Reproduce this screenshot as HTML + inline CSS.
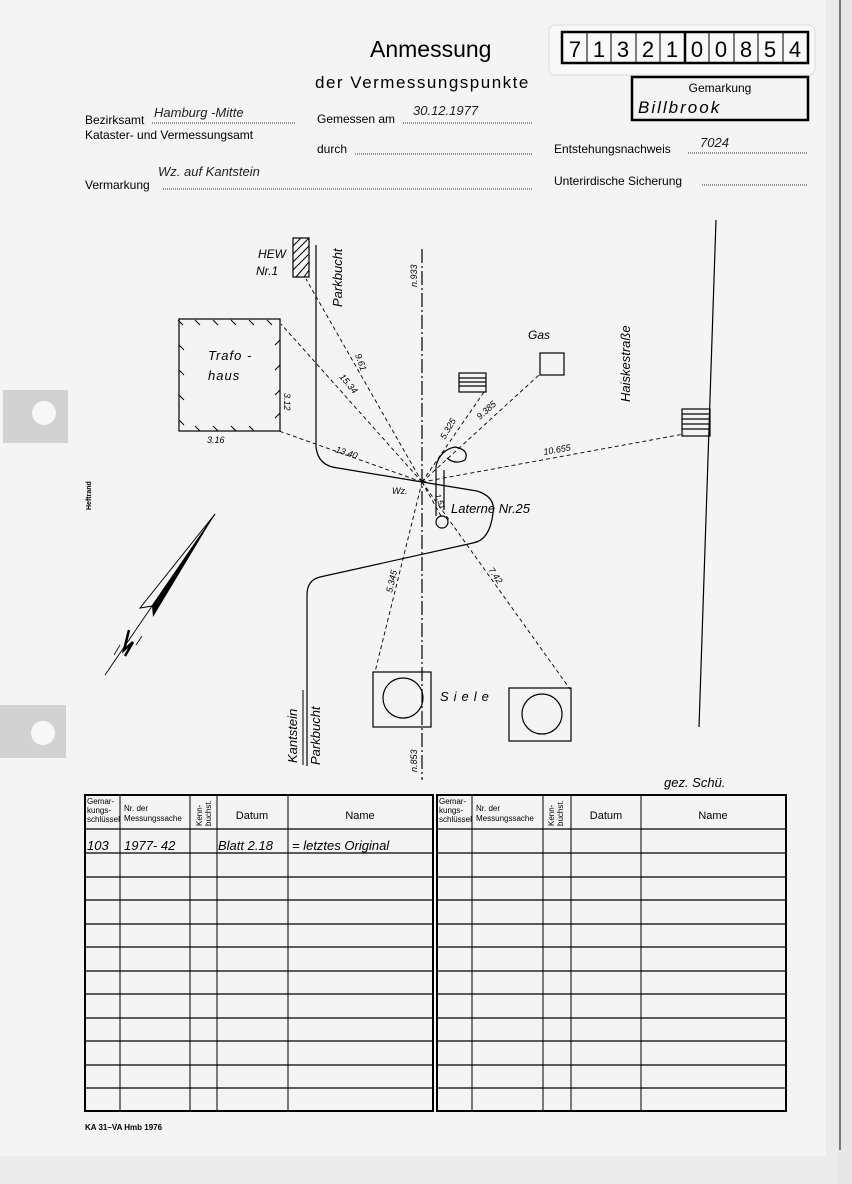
<!DOCTYPE html>
<html><head><meta charset="utf-8"><style>
body{margin:0;width:852px;height:1184px;background:#ebebeb;overflow:hidden;font-family:"Liberation Sans",sans-serif}
svg{position:absolute;left:0;top:0}
</style></head><body>
<svg width="852" height="1184" viewBox="0 0 852 1184" xmlns="http://www.w3.org/2000/svg" font-family="Liberation Sans, sans-serif">
<rect x="0" y="0" width="826" height="1156" fill="#f4f4f4"/>
<rect x="838" y="0" width="14" height="1184" fill="#e6e6e6"/>
<line x1="840" y1="0" x2="840" y2="1150" stroke="#555" stroke-width="1.5"/>
<!-- tabs -->
<rect x="3" y="390" width="65" height="53" fill="#d2d2d2"/>
<circle cx="44" cy="413" r="12" fill="#f7f7f7"/>
<rect x="0" y="705" width="66" height="53" fill="#d2d2d2"/>
<circle cx="43" cy="733" r="12" fill="#f7f7f7"/>
<text x="0" y="0" font-size="7" font-weight="bold" transform="translate(91,510) rotate(-90)">Heftrand</text>

<!-- header -->
<text x="370" y="57" font-size="23">Anmessung</text>
<text x="315" y="88" font-size="17" letter-spacing="1.5">der Vermessungspunkte</text>
<rect x="549" y="25" width="266" height="50" rx="6" fill="#f9f9f9" stroke="#ddd"/>
<rect x="562" y="32" width="246" height="31" fill="none" stroke="#000" stroke-width="2.5"/>
<g stroke="#000" stroke-width="1">
<line x1="587" y1="32" x2="587" y2="63"/><line x1="611" y1="32" x2="611" y2="63"/><line x1="636" y1="32" x2="636" y2="63"/><line x1="660" y1="32" x2="660" y2="63"/>
<line x1="685" y1="32" x2="685" y2="63" stroke-width="2.5"/><line x1="709" y1="32" x2="709" y2="63"/><line x1="734" y1="32" x2="734" y2="63"/><line x1="758" y1="32" x2="758" y2="63"/><line x1="783" y1="32" x2="783" y2="63"/>
</g>
<g font-size="22" text-anchor="middle">
<text x="575" y="57">7</text><text x="599" y="57">1</text><text x="623" y="57">3</text><text x="648" y="57">2</text><text x="672" y="57">1</text><text x="697" y="57">0</text><text x="721" y="57">0</text><text x="746" y="57">8</text><text x="770" y="57">5</text><text x="795" y="57">4</text>
</g>
<rect x="632" y="77" width="176" height="43" fill="none" stroke="#000" stroke-width="2.5"/>
<text x="720" y="92" font-size="12" text-anchor="middle">Gemarkung</text>
<text x="638" y="113" font-size="17" font-style="italic" letter-spacing="2">Billbrook</text>

<g font-size="12">
<text x="85" y="124">Bezirksamt</text>
<text x="85" y="139">Kataster- und Vermessungsamt</text>
<text x="85" y="189">Vermarkung</text>
<text x="317" y="123">Gemessen am</text>
<text x="317" y="153">durch</text>
<text x="554" y="153">Entstehungsnachweis</text>
<text x="554" y="185">Unterirdische Sicherung</text>
</g>
<g font-size="13" font-style="italic" fill="#222">
<text x="154" y="117">Hamburg -Mitte</text>
<text x="413" y="115">30.12.1977</text>
<text x="700" y="147">7024</text>
<text x="158" y="176">Wz. auf Kantstein</text>
</g>
<g stroke="#333" stroke-dasharray="1 1" stroke-width="1">
<line x1="152" y1="123" x2="295" y2="123"/>
<line x1="403" y1="123" x2="533" y2="123"/>
<line x1="355" y1="154" x2="533" y2="154"/>
<line x1="688" y1="153" x2="808" y2="153"/>
<line x1="702" y1="185" x2="808" y2="185"/>
<line x1="163" y1="189" x2="533" y2="189"/>
</g>

<!-- drawing -->
<g stroke="#000" fill="none" stroke-width="1.2">
<line x1="422" y1="249" x2="422" y2="780" stroke-dasharray="14 3 2 3"/>
<line x1="716" y1="220" x2="699" y2="727"/>
<rect x="293" y="238" width="16" height="39"/>
<rect x="179" y="319" width="101" height="112"/>
<path d="M316 245 L316 447 Q318 466 338 468 L422 482 L477 491 Q496 497 493 513 Q490 540 473 543 L320 577 Q307 580 307 595 L307 766"/>
<path d="M436 516 L436 466 Q440 450 455 447 Q470 450 465 460 Q455 465 447 458"/>
<path d="M444 470 L444 510"/>
<circle cx="442" cy="522" r="6"/>
<rect x="459" y="373" width="27" height="19"/>
<line x1="459" y1="378" x2="486" y2="378"/><line x1="459" y1="382" x2="486" y2="382"/><line x1="459" y1="386" x2="486" y2="386"/>
<rect x="540" y="353" width="24" height="22"/>
<rect x="682" y="409" width="28" height="27"/>
<line x1="682" y1="414" x2="710" y2="414"/><line x1="682" y1="419" x2="710" y2="419"/><line x1="682" y1="424" x2="710" y2="424"/><line x1="682" y1="429" x2="710" y2="429"/>
<rect x="373" y="672" width="58" height="55"/>
<circle cx="403" cy="698" r="20"/>
<rect x="509" y="688" width="62" height="53"/>
<circle cx="542" cy="714" r="20"/>
</g>
<g stroke="#000" stroke-width="1">
<line x1="293" y1="246" x2="301" y2="238"/><line x1="293" y1="254" x2="309" y2="238"/><line x1="293" y1="262" x2="309" y2="246"/><line x1="293" y1="270" x2="309" y2="254"/><line x1="296" y1="277" x2="309" y2="262"/><line x1="304" y1="277" x2="309" y2="270"/>
</g>
<g stroke="#000" stroke-width="1" fill="none">
<path d="M183 325 l-5 -5 M200 325 l-5 -5 M218 325 l-5 -5 M236 325 l-5 -5 M254 325 l-5 -5 M272 325 l-5 -5 M184 350 l-5 -5 M184 375 l-5 -5 M184 400 l-5 -5 M184 425 l-5 -5 M200 431 l-5 -5 M218 431 l-5 -5 M236 431 l-5 -5 M254 431 l-5 -5 M275 345 l5 -5 M275 370 l5 -5 M275 395 l5 -5 M275 418 l5 -5"/>
</g>
<g stroke="#000" stroke-width="0.9" stroke-dasharray="4 3" fill="none">
<line x1="422" y1="482" x2="306" y2="279"/>
<line x1="422" y1="482" x2="281" y2="324"/>
<line x1="422" y1="482" x2="279" y2="431"/>
<line x1="422" y1="482" x2="484" y2="392"/>
<line x1="422" y1="482" x2="539" y2="375"/>
<line x1="422" y1="482" x2="684" y2="434"/>
<line x1="422" y1="482" x2="375" y2="672"/>
<line x1="422" y1="482" x2="570" y2="689"/>
<line x1="422" y1="482" x2="441" y2="516"/>
</g>
<g font-size="11" font-style="italic">
<text x="258" y="258" font-size="12">HEW</text>
<text x="256" y="275" font-size="12">Nr.1</text>
<text x="208" y="360" font-size="13" letter-spacing="1">Trafo -</text>
<text x="208" y="380" font-size="13" letter-spacing="1">haus</text>
<text x="207" y="443" font-size="9">3.16</text>
<text x="0" y="0" font-size="9" transform="translate(284,393) rotate(90)">3.12</text>
<text x="0" y="0" font-size="13" transform="translate(342,307) rotate(-90)">Parkbucht</text>
<text x="0" y="0" font-size="9" transform="translate(417,287) rotate(-90)">n.933</text>
<text x="0" y="0" font-size="9" transform="translate(417,772) rotate(-90)">n.853</text>
<text x="528" y="339" font-size="12">Gas</text>
<text x="0" y="0" font-size="13" transform="translate(630,402) rotate(-90)">Haiskestraße</text>
<text x="0" y="0" font-size="9" transform="translate(355,355) rotate(70)">9.61</text>
<text x="0" y="0" font-size="9" transform="translate(339,377) rotate(50)">15.34</text>
<text x="0" y="0" font-size="9" transform="translate(335,452) rotate(18)">13.40</text>
<text x="0" y="0" font-size="9" transform="translate(445,440) rotate(-60)">5.325</text>
<text x="0" y="0" font-size="9" transform="translate(480,420) rotate(-42)">9.385</text>
<text x="0" y="0" font-size="9" transform="translate(544,455) rotate(-10)">10.655</text>
<text x="0" y="0" font-size="9" transform="translate(392,593) rotate(-77)">5.345</text>
<text x="0" y="0" font-size="9" transform="translate(488,570) rotate(55)">7.42</text>
<text x="0" y="0" font-size="8" transform="translate(435,495) rotate(70)">1.51</text>
<text x="392" y="494" font-size="9">Wz.</text>
<text x="451" y="513" font-size="13">Laterne Nr.25</text>
<text x="440" y="701" font-size="13" letter-spacing="5">Siele</text>
<text x="0" y="0" font-size="13" transform="translate(297,763) rotate(-90)">Kantstein</text>
<text x="0" y="0" font-size="13" transform="translate(320,765) rotate(-90)">Parkbucht</text>
<text x="664" y="787" font-size="13">gez. Schü.</text>
</g>
<line x1="303" y1="690" x2="303" y2="765" stroke="#000" stroke-width="1"/>
<!-- north arrow -->
<line x1="215" y1="514" x2="105" y2="675" stroke="#000" stroke-width="0.9"/>
<path d="M215 514 L140 608 L152 606 Z" fill="none" stroke="#000"/>
<path d="M215 514 L152 606 L153 617 Z" fill="#000"/>
<path d="M129 630 L124 650 L133 642 L125 656" stroke="#000" stroke-width="2.5" fill="none"/>
<path d="M120 645 L114 655 M142 636 L136 645" stroke="#000" stroke-width="0.8"/>

<!-- tables -->
<g stroke="#000" fill="none">
<rect x="85" y="795" width="348" height="316" stroke-width="2"/>
<rect x="437" y="795" width="349" height="316" stroke-width="2"/>
<g stroke-width="1">
<line x1="120" y1="795" x2="120" y2="1111"/><line x1="190" y1="795" x2="190" y2="1111"/><line x1="217" y1="795" x2="217" y2="1111"/><line x1="288" y1="795" x2="288" y2="1111"/>
<line x1="472" y1="795" x2="472" y2="1111"/><line x1="543" y1="795" x2="543" y2="1111"/><line x1="571" y1="795" x2="571" y2="1111"/><line x1="641" y1="795" x2="641" y2="1111"/>
</g>
<g stroke-width="1.3">
<path d="M85 829H786 M85 853H786 M85 877H786 M85 900H786 M85 924H786 M85 947H786 M85 971H786 M85 994H786 M85 1018H786 M85 1041H786 M85 1065H786 M85 1088H786"/>
</g>
</g>
<rect x="434" y="800" width="2" height="310" fill="#f4f4f4"/>
<g font-size="8">
<text x="87" y="804">Gemar-</text><text x="87" y="813">kungs-</text><text x="87" y="822">schlüssel</text>
<text x="124" y="811">Nr. der</text><text x="124" y="821">Messungssache</text>
<text x="0" y="0" transform="translate(202,826) rotate(-90)">Kenn-</text><text x="0" y="0" transform="translate(211,826) rotate(-90)">buchst.</text>
<text x="439" y="804">Gemar-</text><text x="439" y="813">kungs-</text><text x="439" y="822">schlüssel</text>
<text x="476" y="811">Nr. der</text><text x="476" y="821">Messungssache</text>
<text x="0" y="0" transform="translate(554,826) rotate(-90)">Kenn-</text><text x="0" y="0" transform="translate(563,826) rotate(-90)">buchst.</text>
</g>
<g font-size="11" text-anchor="middle">
<text x="252" y="819">Datum</text><text x="360" y="819">Name</text>
<text x="606" y="819">Datum</text><text x="713" y="819">Name</text>
</g>
<g font-size="13" font-style="italic">
<text x="87" y="850">103</text><text x="124" y="850">1977- 42</text>
<text x="218" y="850">Blatt 2.18</text><text x="292" y="850">= letztes Original</text>
</g>
<text x="85" y="1130" font-size="8" font-weight="bold">KA 31–VA Hmb 1976</text>
</svg>
</body></html>
